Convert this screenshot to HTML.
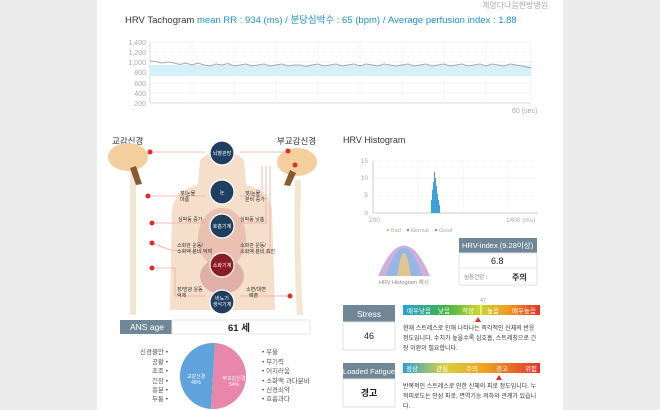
<!DOCTYPE html>
<html><head><meta charset="utf-8"><style>
html,body{margin:0;padding:0;width:660px;height:410px;overflow:hidden;background:#ececec}
svg{display:block}
text{font-family:"Liberation Sans","Noto Sans CJK KR",sans-serif}
</style></head><body>
<svg width="660" height="410" xmlns="http://www.w3.org/2000/svg">
<defs>
<linearGradient id="g1" x1="0" x2="1"><stop offset="0" stop-color="#2a9fd8"/><stop offset="0.3" stop-color="#3cb34a"/><stop offset="0.55" stop-color="#c8d62a"/><stop offset="0.75" stop-color="#f0a020"/><stop offset="1" stop-color="#e5332a"/></linearGradient>
<linearGradient id="g2" x1="0" x2="1"><stop offset="0" stop-color="#2a9fd8"/><stop offset="0.3" stop-color="#d8d040"/><stop offset="0.6" stop-color="#f0a020"/><stop offset="1" stop-color="#e5332a"/></linearGradient>
</defs>
<rect x="97" y="0" width="466" height="410" fill="#fff"/>
<text x="482" y="8" font-size="8" fill="#aaa">계양다나음한방병원</text>
<text x="125" y="23" font-size="9.5" fill="#333">HRV Tachogram :</text>
<text x="197" y="23" font-size="9.5" fill="#1e8fd0">mean RR : 934 (ms) / 분당심박수 : 65 (bpm) / Average perfusion index : 1.88</text>
<!-- tachogram -->
<g font-size="7" fill="#aaa" text-anchor="end">
<text x="146" y="45">1,400</text><text x="146" y="55">1,200</text><text x="146" y="65">1,000</text><text x="146" y="75">800</text><text x="146" y="86">600</text><text x="146" y="96">400</text><text x="146" y="106">200</text>
</g>
<g stroke="#e4e4e4" stroke-dasharray="1,1" stroke-width="0.7">
<line x1="150" y1="42" x2="531" y2="42"/><line x1="150" y1="52" x2="531" y2="52"/><line x1="150" y1="62" x2="531" y2="62"/><line x1="150" y1="72" x2="531" y2="72"/><line x1="150" y1="83" x2="531" y2="83"/><line x1="150" y1="93" x2="531" y2="93"/>
<line x1="192" y1="42" x2="192" y2="103"/><line x1="234" y1="42" x2="234" y2="103"/><line x1="276" y1="42" x2="276" y2="103"/><line x1="318" y1="42" x2="318" y2="103"/><line x1="360" y1="42" x2="360" y2="103"/><line x1="402" y1="42" x2="402" y2="103"/><line x1="444" y1="42" x2="444" y2="103"/><line x1="486" y1="42" x2="486" y2="103"/><line x1="531" y1="42" x2="531" y2="103"/>
</g>
<line x1="150" y1="103" x2="531" y2="103" stroke="#ddd"/>
<line x1="150" y1="42" x2="150" y2="103" stroke="#ddd"/>
<rect x="150" y="65" width="381" height="11" fill="#d6f0fa"/>
<polyline fill="none" stroke="#aaa" stroke-width="1" points="150,61 156,61.5 162,63 168,62 174,63 180,64.5 186,63 192,65 198,63 204,65 210,66 216,64 222,65 228,63.5 234,66 240,65 246,64 252,66 258,65 264,64 270,66 276,65 282,64 288,66 294,65 300,65 306,66.5 312,65 318,64 324,66 330,65 336,64 342,66 348,65 354,64 360,66 366,64 372,65 378,66 384,64 390,65 396,66 402,65 408,64 414,66 420,65 426,64 432,66 438,65 444,64 450,66 456,65 462,64 468,66 474,65 480,64 486,66 492,64 498,65 504,66 510,64 516,65 522,66 531,68"/>
<text x="512" y="113" font-size="7" fill="#aaa">60 (sec)</text>
<!-- body diagram -->
<text x="112" y="144" font-size="8.5" fill="#333">교감신경</text>
<text x="277" y="144" font-size="8.5" fill="#333">부교감신경</text>
<path d="M200,160 Q222,140 244,160 L246,185 Q270,190 272,210 L275,310 L170,310 L172,210 Q174,190 198,185 Z" fill="#f5dfcb"/>
<ellipse cx="222" cy="238" rx="24" ry="30" fill="#eac0b0"/>
<ellipse cx="222" cy="276" rx="22" ry="18" fill="#e0b0a8"/>
<rect x="130" y="170" width="6" height="145" fill="#f3e6d2"/>
<path d="M298,180 Q296,250 300,315" stroke="#f3e6d2" stroke-width="6" fill="none"/>
<ellipse cx="128" cy="157" rx="20" ry="14" fill="#f2cf9c"/>
<path d="M130,168 L136,185 L142,184 L136,166 Z" fill="#8a5a2e"/>
<ellipse cx="297" cy="162" rx="20" ry="14" fill="#f2cf9c"/>
<path d="M296,173 L290,186 L284,185 L290,170 Z" fill="#8a5a2e"/>
<g fill="none" stroke="#f0a8a0" stroke-width="0.8">
<line x1="150" y1="152" x2="205" y2="152"/><line x1="290" y1="152" x2="240" y2="152"/>
<polyline points="148,196 205,196"/><polyline points="262,166 262,196 240,196"/>
<polyline points="152,223 205,223"/><polyline points="266,166 266,223 240,223"/>
<polyline points="152,243 170,250 205,253"/><polyline points="270,166 270,253 240,253"/>
<polyline points="152,268 175,268 175,296 205,296"/><polyline points="290,296 240,296"/>
</g>
<g fill="#e52a2a"><circle cx="150" cy="152" r="2.5"/><circle cx="295" cy="165" r="2.5"/><circle cx="148" cy="196" r="2.5"/><circle cx="152" cy="223" r="2.5"/><circle cx="152" cy="243" r="2.5"/><circle cx="152" cy="268" r="2.5"/><circle cx="290" cy="296" r="2.5"/><circle cx="288" cy="151" r="2.5"/></g>
<g fill="#1e3f60" stroke="#fff" stroke-width="1.2">
<circle cx="222" cy="153" r="12"/><circle cx="222" cy="192" r="12"/><circle cx="222" cy="226" r="12"/><circle cx="222" cy="302" r="12"/>
</g>
<circle cx="222" cy="265" r="12" fill="#8a1c24" stroke="#fff" stroke-width="1.2"/>
<g font-size="5" fill="#fff" text-anchor="middle">
<text x="222" y="155">뇌혈관망</text><text x="222" y="194">눈</text><text x="222" y="228">호흡기계</text><text x="222" y="267">소화기계</text><text x="222" y="300">비뇨기</text><text x="222" y="306">생식기계</text>
</g>
<g font-size="5" fill="#333">
<text x="180" y="195">젖/눈물</text><text x="180" y="201">마름</text>
<text x="178" y="221">심박동 증가</text>
<text x="177" y="247">소화관 운동/</text><text x="177" y="253">소화액 분비 억제</text>
<text x="177" y="291">장/방광 운동</text><text x="177" y="297">억제</text>
<text x="245" y="195">젖/눈물</text><text x="245" y="201">분비 증가</text>
<text x="240" y="221">심박동 낮춤</text>
<text x="240" y="247">소화관 운동/</text><text x="240" y="253">소화액 분비 촉진</text>
<text x="246" y="291">소변/대변</text><text x="249" y="297">배출</text>
</g>
<!-- ANS age -->
<rect x="120" y="320" width="52" height="14" fill="#6f8797"/>
<text x="130" y="330" font-size="8.5" fill="#fff">ANS age</text>
<rect x="172" y="320" width="138" height="14" fill="#fff" stroke="#e6e6e6"/>
<text x="228" y="331" font-size="9.5" fill="#222" font-weight="bold">61 세</text>
<!-- pie -->
<path d="M215,343 A33,33 0 1,1 211,409 Z" fill="#e887aa"/>
<path d="M215,343 A33,33 0 0,0 211,409 Z" fill="#5ea3dc"/>
<g font-size="5" fill="#fff" text-anchor="middle"><text x="196" y="378">교감신경</text><text x="196" y="384">46%</text><text x="234" y="380">부교감신경</text><text x="234" y="386">54%</text></g>
<g font-size="6.5" fill="#555" text-anchor="end">
<text x="168" y="354">신경불안 •</text><text x="168" y="364">공황 •</text><text x="168" y="373">초조 •</text><text x="168" y="383">긴장 •</text><text x="168" y="392">흥분 •</text><text x="168" y="401">두통 •</text>
</g>
<g font-size="6.5" fill="#555">
<text x="262" y="354">• 우울</text><text x="262" y="364">• 무기력</text><text x="262" y="373">• 어지러움</text><text x="262" y="383">• 소화액 과다분비</text><text x="262" y="392">• 신경쇠약</text><text x="262" y="401">• 호흡과다</text>
</g>
<!-- histogram -->
<text x="343" y="143" font-size="9" fill="#333">HRV Histogram</text>
<g font-size="6.5" fill="#aaa" text-anchor="end"><text x="368" y="163">15</text><text x="368" y="180">10</text><text x="368" y="197">5</text><text x="368" y="215">0</text></g>
<g stroke="#e4e4e4" stroke-dasharray="1,1" stroke-width="0.7">
<line x1="373" y1="161" x2="538" y2="161"/><line x1="373" y1="178" x2="538" y2="178"/><line x1="373" y1="196" x2="538" y2="196"/>
<line x1="418" y1="161" x2="418" y2="213"/><line x1="463" y1="161" x2="463" y2="213"/><line x1="508" y1="161" x2="508" y2="213"/>
</g>
<line x1="373" y1="213" x2="538" y2="213" stroke="#ccc"/><line x1="373" y1="161" x2="373" y2="213" stroke="#ccc"/>
<g fill="#3da0d8"><rect x="431" y="200" width="1" height="13"/><rect x="432" y="190" width="1" height="23"/><rect x="433" y="182" width="1" height="31"/><rect x="434" y="172" width="1" height="41"/><rect x="435" y="178" width="1" height="35"/><rect x="436" y="186" width="1" height="27"/><rect x="437" y="194" width="1" height="19"/><rect x="438" y="200" width="1" height="13"/><rect x="439" y="205" width="1" height="8"/></g>
<text x="369" y="222" font-size="6.5" fill="#aaa">200</text><text x="506" y="222" font-size="6.5" fill="#aaa">1400 (ms)</text>
<g font-size="5.5" fill="#aaa"><circle cx="388" cy="230" r="1.3" fill="#f0c070"/><text x="391" y="232">Bad</text><circle cx="408" cy="230" r="1.3" fill="#5aa8e0"/><text x="411" y="232">Normal</text><circle cx="436" cy="230" r="1.3" fill="#b080c8"/><text x="439" y="232">Good</text></g>
<path d="M378,276 Q404,215 430,276 Z" fill="#c9a6d8" opacity="0.9"/>
<path d="M386,276 Q404,220 422,276 Z" fill="#8cb8e6" opacity="0.85"/>
<path d="M397,276 Q404,230 411,276 Z" fill="#f2c880" opacity="0.8"/>
<text x="379" y="284" font-size="5.5" fill="#888">HRV Histogram 예시</text>
<rect x="459" y="238" width="78" height="15" fill="#6f8797"/>
<text x="462" y="248" font-size="7.5" fill="#fff">HRV-index (9.28이상)</text>
<rect x="459" y="253" width="78" height="32" fill="#fff" stroke="#e0e0e0"/>
<line x1="459" y1="268" x2="537" y2="268" stroke="#e8e8e8"/>
<text x="491" y="264" font-size="9" fill="#222">6.8</text>
<text x="464" y="279" font-size="5.5" fill="#777">심장건강 :</text>
<text x="512" y="280" font-size="8" fill="#222" font-weight="bold">주의</text>
<!-- stress -->
<rect x="343" y="305" width="52" height="17" fill="#6f8797"/>
<text x="369" y="317" font-size="8.5" fill="#fff" text-anchor="middle">Stress</text>
<rect x="343" y="322" width="52" height="28" fill="#fff" stroke="#e0e0e0"/>
<text x="369" y="339" font-size="9" fill="#222" text-anchor="middle">46</text>
<rect x="403" y="305" width="137" height="10" fill="url(#g1)"/>
<line x1="481" y1="303" x2="481" y2="317" stroke="#fff"/>
<text x="480" y="302" font-size="5.5" fill="#999">47</text>
<g font-size="6.5" fill="#fff"><text x="407" y="313">매우낮음</text><text x="438" y="313">낮음</text><text x="462" y="313">적정</text><text x="487" y="313">높음</text><text x="512" y="313">매우높음</text></g>
<path d="M478,317 L481,322 L475,322 Z" fill="#e52a2a"/>
<g font-size="6" fill="#333"><text x="403" y="330">현재 스트레스로 인해 나타나는 즉각적인 신체의 반응</text><text x="403" y="340">정도입니다. 수치가 높을수록 심호흡, 스트레칭으로 긴</text><text x="403" y="350">장 이완이 필요합니다.</text></g>
<!-- fatigue -->
<rect x="343" y="363" width="52" height="16" fill="#6f8797"/>
<text x="369" y="374" font-size="7.5" fill="#fff" text-anchor="middle">Loaded Fatigue</text>
<rect x="343" y="379" width="52" height="28" fill="#fff" stroke="#e0e0e0"/>
<text x="369" y="396" font-size="9" fill="#222" text-anchor="middle" font-weight="bold">경고</text>
<rect x="403" y="363" width="137" height="10" fill="url(#g2)"/>
<g font-size="6.5" fill="#fff"><text x="406" y="371">정상</text><text x="436" y="371">관심</text><text x="466" y="371">주의</text><text x="496" y="371">경고</text><text x="525" y="371">위험</text></g>
<path d="M499,375 L502,380 L496,380 Z" fill="#e52a2a"/>
<g font-size="6" fill="#333"><text x="403" y="388">반복적인 스트레스로 인한 신체의 피로 정도입니다. 누</text><text x="403" y="398">적피로도는 만성 피로, 면역기능 저하와 관계가 있습니</text><text x="403" y="408">다.</text></g>
</svg>
</body></html>
